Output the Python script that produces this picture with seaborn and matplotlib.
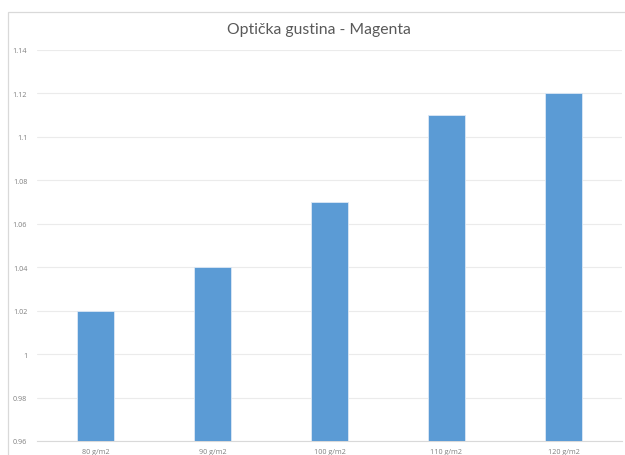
import matplotlib
matplotlib.use("Agg")
import matplotlib.pyplot as plt
import seaborn as sns
import pandas as pd
from matplotlib.patches import Rectangle

categories = ["80 g/m2", "90 g/m2", "100 g/m2", "110 g/m2", "120 g/m2"]
values = [1.02, 1.04, 1.07, 1.11, 1.12]
yticks = [0.96, 0.98, 1.0, 1.02, 1.04, 1.06, 1.08, 1.1, 1.12, 1.14]
ytick_labels = ["0.96", "0.98", "1", "1.02", "1.04", "1.06", "1.08", "1.1", "1.12", "1.14"]

sns.set_theme(style="white")
plt.rcParams["font.family"] = ["Open Sans", "DejaVu Sans"]

df = pd.DataFrame({"gramatura": categories, "gustina": values})

fig = plt.figure(figsize=(6.25, 4.56), dpi=100)
ax = fig.add_axes([37 / 625, 14 / 456, 585 / 625, 391 / 456])

sns.barplot(data=df, x="gramatura", y="gustina", color="#5B9BD5",
            width=0.315, saturation=1, edgecolor="#DCE8F5", linewidth=0.6,
            ax=ax, zorder=3)

ax.set_ylim(0.96, 1.14)
ax.set_yticks(yticks)
ax.set_yticklabels(ytick_labels)
ax.set_xlabel("")
ax.set_ylabel("")
ax.grid(axis="y", color="#EBEBEB", linewidth=0.8, zorder=0)
for s in ["top", "right", "left"]:
    ax.spines[s].set_visible(False)
ax.spines["bottom"].set_color("#D9D9D9")
ax.spines["bottom"].set_linewidth(0.8)
ax.tick_params(axis="both", length=0, labelsize=5.2, colors="#808080")
ax.tick_params(axis="y", pad=7)
ax.tick_params(axis="x", pad=5)

fig.text(319 / 625, 1 - 30 / 456, "Optička gustina - Magenta", ha="center",
         va="center", fontsize=11.3, color="#595959",
         family=["Lato", "DejaVu Sans"])

# outer chart frame
fig.patches.append(Rectangle((8 / 625, -0.1), 1.2, 1 - 13 / 456 + 0.1,
                             transform=fig.transFigure, fill=False,
                             edgecolor="#D9D9D9", linewidth=0.9))

fig.savefig("out.png", dpi=100)
